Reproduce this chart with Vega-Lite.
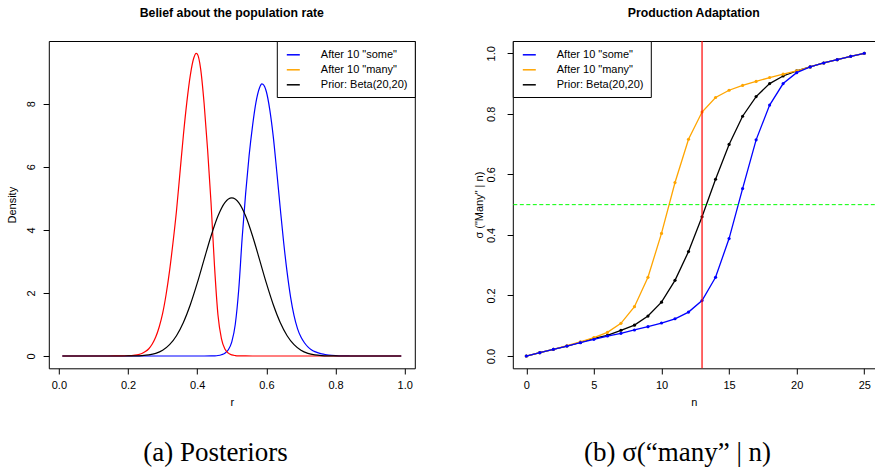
{
  "$schema": "https://vega.github.io/schema/vega-lite/v6.json",
  "background": "white",
  "padding": {"left": 5.8, "top": 6, "right": 0, "bottom": 0},
  "config": {
    "font": "Liberation Sans",
    "axis": {"grid": false, "domain": false, "labelFont": "Liberation Sans", "labelFontSize": 11, "labelColor": "black", "titleFont": "Liberation Sans", "titleFontSize": 11, "titleFontWeight": "normal", "titleColor": "black", "tickColor": "black", "tickSize": 5.7, "tickWidth": 1, "domainColor": "black", "domainWidth": 1, "labelFlush": false, "labelOverlap": false},
    "title": {"font": "Liberation Sans", "fontSize": 12.3, "fontWeight": "bold", "color": "black", "anchor": "middle", "baseline": "alphabetic", "offset": 21},
    "legend": {"title": null, "symbolType": "stroke", "symbolSize": 169, "symbolStrokeWidth": 1.5, "labelFont": "Liberation Sans", "labelFontSize": 11, "labelColor": "black", "labelLimit": 300, "padding": 6.3, "rowPadding": 2, "symbolOffset": 2.7, "labelOffset": 20, "strokeColor": "black", "fillColor": "white", "offset": 0, "cornerRadius": 0}
  },
  "datasets": {
    "post": [
      {"k": "some", "r": 0.01, "d": 0}, {"k": "some", "r": 0.42, "d": 0}, {"k": "some", "r": 0.44, "d": 0.001}, {"k": "some", "r": 0.45, "d": 0.005}, {"k": "some", "r": 0.46, "d": 0.015}, {"k": "some", "r": 0.47, "d": 0.04}, {"k": "some", "r": 0.48, "d": 0.09}, {"k": "some", "r": 0.49, "d": 0.2}, {"k": "some", "r": 0.5, "d": 0.45}, {"k": "some", "r": 0.51, "d": 1.0}, {"k": "some", "r": 0.52, "d": 2.1}, {"k": "some", "r": 0.53, "d": 3.75}, {"k": "some", "r": 0.54, "d": 5.15}, {"k": "some", "r": 0.55, "d": 6.35}, {"k": "some", "r": 0.56, "d": 7.3}, {"k": "some", "r": 0.57, "d": 8.05}, {"k": "some", "r": 0.58, "d": 8.5}, {"k": "some", "r": 0.587, "d": 8.63}, {"k": "some", "r": 0.59, "d": 8.62}, {"k": "some", "r": 0.6, "d": 8.38}, {"k": "some", "r": 0.61, "d": 7.8}, {"k": "some", "r": 0.62, "d": 6.95}, {"k": "some", "r": 0.63, "d": 5.85}, {"k": "some", "r": 0.64, "d": 4.7}, {"k": "some", "r": 0.65, "d": 3.6}, {"k": "some", "r": 0.66, "d": 2.65}, {"k": "some", "r": 0.67, "d": 1.87}, {"k": "some", "r": 0.68, "d": 1.28}, {"k": "some", "r": 0.69, "d": 0.87}, {"k": "some", "r": 0.7, "d": 0.6}, {"k": "some", "r": 0.71, "d": 0.42}, {"k": "some", "r": 0.72, "d": 0.29}, {"k": "some", "r": 0.73, "d": 0.2}, {"k": "some", "r": 0.74, "d": 0.14}, {"k": "some", "r": 0.75, "d": 0.1}, {"k": "some", "r": 0.76, "d": 0.07}, {"k": "some", "r": 0.77, "d": 0.048}, {"k": "some", "r": 0.78, "d": 0.032}, {"k": "some", "r": 0.8, "d": 0.013}, {"k": "some", "r": 0.82, "d": 0.004}, {"k": "some", "r": 0.84, "d": 0.001}, {"k": "some", "r": 0.86, "d": 0}, {"k": "some", "r": 0.99, "d": 0},
      {"k": "many", "r": 0.01, "d": 0}, {"k": "many", "r": 0.14, "d": 0}, {"k": "many", "r": 0.16, "d": 0.001}, {"k": "many", "r": 0.18, "d": 0.003}, {"k": "many", "r": 0.2, "d": 0.008}, {"k": "many", "r": 0.21, "d": 0.013}, {"k": "many", "r": 0.22, "d": 0.025}, {"k": "many", "r": 0.23, "d": 0.045}, {"k": "many", "r": 0.24, "d": 0.08}, {"k": "many", "r": 0.25, "d": 0.14}, {"k": "many", "r": 0.26, "d": 0.23}, {"k": "many", "r": 0.27, "d": 0.38}, {"k": "many", "r": 0.28, "d": 0.6}, {"k": "many", "r": 0.29, "d": 0.92}, {"k": "many", "r": 0.3, "d": 1.35}, {"k": "many", "r": 0.31, "d": 1.95}, {"k": "many", "r": 0.32, "d": 2.7}, {"k": "many", "r": 0.33, "d": 3.6}, {"k": "many", "r": 0.34, "d": 4.6}, {"k": "many", "r": 0.35, "d": 5.8}, {"k": "many", "r": 0.36, "d": 7.0}, {"k": "many", "r": 0.37, "d": 8.05}, {"k": "many", "r": 0.38, "d": 8.9}, {"k": "many", "r": 0.39, "d": 9.45}, {"k": "many", "r": 0.397, "d": 9.6}, {"k": "many", "r": 0.4, "d": 9.58}, {"k": "many", "r": 0.41, "d": 9.1}, {"k": "many", "r": 0.42, "d": 8.0}, {"k": "many", "r": 0.43, "d": 6.55}, {"k": "many", "r": 0.44, "d": 4.85}, {"k": "many", "r": 0.45, "d": 2.85}, {"k": "many", "r": 0.46, "d": 1.3}, {"k": "many", "r": 0.47, "d": 0.55}, {"k": "many", "r": 0.48, "d": 0.22}, {"k": "many", "r": 0.49, "d": 0.09}, {"k": "many", "r": 0.5, "d": 0.035}, {"k": "many", "r": 0.51, "d": 0.014}, {"k": "many", "r": 0.52, "d": 0.005}, {"k": "many", "r": 0.54, "d": 0.001}, {"k": "many", "r": 0.56, "d": 0}, {"k": "many", "r": 0.99, "d": 0},
      {"k": "prior", "r": 0.01, "d": 0}, {"k": "prior", "r": 0.18, "d": 0}, {"k": "prior", "r": 0.2, "d": 0.001}, {"k": "prior", "r": 0.22, "d": 0.0039}, {"k": "prior", "r": 0.24, "d": 0.0126}, {"k": "prior", "r": 0.26, "d": 0.0346}, {"k": "prior", "r": 0.28, "d": 0.0841}, {"k": "prior", "r": 0.3, "d": 0.183}, {"k": "prior", "r": 0.32, "d": 0.359}, {"k": "prior", "r": 0.34, "d": 0.644}, {"k": "prior", "r": 0.36, "d": 1.063}, {"k": "prior", "r": 0.38, "d": 1.625}, {"k": "prior", "r": 0.4, "d": 2.309}, {"k": "prior", "r": 0.42, "d": 3.064}, {"k": "prior", "r": 0.44, "d": 3.807}, {"k": "prior", "r": 0.46, "d": 4.439}, {"k": "prior", "r": 0.48, "d": 4.865}, {"k": "prior", "r": 0.5, "d": 5.015}, {"k": "prior", "r": 0.52, "d": 4.865}, {"k": "prior", "r": 0.54, "d": 4.439}, {"k": "prior", "r": 0.56, "d": 3.807}, {"k": "prior", "r": 0.58, "d": 3.064}, {"k": "prior", "r": 0.6, "d": 2.309}, {"k": "prior", "r": 0.62, "d": 1.625}, {"k": "prior", "r": 0.64, "d": 1.063}, {"k": "prior", "r": 0.66, "d": 0.644}, {"k": "prior", "r": 0.68, "d": 0.359}, {"k": "prior", "r": 0.7, "d": 0.183}, {"k": "prior", "r": 0.72, "d": 0.0841}, {"k": "prior", "r": 0.74, "d": 0.0346}, {"k": "prior", "r": 0.76, "d": 0.0126}, {"k": "prior", "r": 0.78, "d": 0.0039}, {"k": "prior", "r": 0.8, "d": 0.001}, {"k": "prior", "r": 0.82, "d": 0}, {"k": "prior", "r": 0.99, "d": 0}
    ],
    "prod": [
      {"k": "some", "n": 0, "v": 0}, {"k": "some", "n": 1, "v": 0.011}, {"k": "some", "n": 2, "v": 0.022}, {"k": "some", "n": 3, "v": 0.033}, {"k": "some", "n": 4, "v": 0.044}, {"k": "some", "n": 5, "v": 0.055}, {"k": "some", "n": 6, "v": 0.066}, {"k": "some", "n": 7, "v": 0.075}, {"k": "some", "n": 8, "v": 0.086}, {"k": "some", "n": 9, "v": 0.097}, {"k": "some", "n": 10, "v": 0.109}, {"k": "some", "n": 11, "v": 0.123}, {"k": "some", "n": 12, "v": 0.145}, {"k": "some", "n": 13, "v": 0.183}, {"k": "some", "n": 14, "v": 0.26}, {"k": "some", "n": 15, "v": 0.388}, {"k": "some", "n": 16, "v": 0.553}, {"k": "some", "n": 17, "v": 0.714}, {"k": "some", "n": 18, "v": 0.829}, {"k": "some", "n": 19, "v": 0.9}, {"k": "some", "n": 20, "v": 0.936}, {"k": "some", "n": 21, "v": 0.955}, {"k": "some", "n": 22, "v": 0.968}, {"k": "some", "n": 23, "v": 0.979}, {"k": "some", "n": 24, "v": 0.99}, {"k": "some", "n": 25, "v": 1.0},
      {"k": "many", "n": 0, "v": 0}, {"k": "many", "n": 1, "v": 0.011}, {"k": "many", "n": 2, "v": 0.022}, {"k": "many", "n": 3, "v": 0.034}, {"k": "many", "n": 4, "v": 0.047}, {"k": "many", "n": 5, "v": 0.061}, {"k": "many", "n": 6, "v": 0.078}, {"k": "many", "n": 7, "v": 0.108}, {"k": "many", "n": 8, "v": 0.163}, {"k": "many", "n": 9, "v": 0.26}, {"k": "many", "n": 10, "v": 0.405}, {"k": "many", "n": 11, "v": 0.573}, {"k": "many", "n": 12, "v": 0.716}, {"k": "many", "n": 13, "v": 0.806}, {"k": "many", "n": 14, "v": 0.854}, {"k": "many", "n": 15, "v": 0.878}, {"k": "many", "n": 16, "v": 0.894}, {"k": "many", "n": 17, "v": 0.907}, {"k": "many", "n": 18, "v": 0.92}, {"k": "many", "n": 19, "v": 0.931}, {"k": "many", "n": 20, "v": 0.942}, {"k": "many", "n": 21, "v": 0.955}, {"k": "many", "n": 22, "v": 0.968}, {"k": "many", "n": 23, "v": 0.979}, {"k": "many", "n": 24, "v": 0.99}, {"k": "many", "n": 25, "v": 1.0},
      {"k": "prior", "n": 0, "v": 0}, {"k": "prior", "n": 1, "v": 0.011}, {"k": "prior", "n": 2, "v": 0.022}, {"k": "prior", "n": 3, "v": 0.033}, {"k": "prior", "n": 4, "v": 0.045}, {"k": "prior", "n": 5, "v": 0.058}, {"k": "prior", "n": 6, "v": 0.068}, {"k": "prior", "n": 7, "v": 0.085}, {"k": "prior", "n": 8, "v": 0.102}, {"k": "prior", "n": 9, "v": 0.132}, {"k": "prior", "n": 10, "v": 0.178}, {"k": "prior", "n": 11, "v": 0.25}, {"k": "prior", "n": 12, "v": 0.345}, {"k": "prior", "n": 13, "v": 0.46}, {"k": "prior", "n": 14, "v": 0.584}, {"k": "prior", "n": 15, "v": 0.699}, {"k": "prior", "n": 16, "v": 0.792}, {"k": "prior", "n": 17, "v": 0.857}, {"k": "prior", "n": 18, "v": 0.9}, {"k": "prior", "n": 19, "v": 0.925}, {"k": "prior", "n": 20, "v": 0.942}, {"k": "prior", "n": 21, "v": 0.955}, {"k": "prior", "n": 22, "v": 0.968}, {"k": "prior", "n": 23, "v": 0.979}, {"k": "prior", "n": 24, "v": 0.99}, {"k": "prior", "n": 25, "v": 1.0}
    ]
  },
  "columns": 2,
  "spacing": {"row": 68.7, "column": 98},
  "bounds": "flush",
  "concat": [
    {
      "width": 366,
      "height": 327.3,
      "title": "Belief about the population rate",
      "view": {"stroke": "black", "strokeWidth": 1},
      "data": {"name": "post"},
      "encoding": {
        "x": {"field": "r", "type": "quantitative", "scale": {"domain": [-0.0292, 1.0292], "nice": false, "zero": false}, "axis": {"values": [0, 0.2, 0.4, 0.6, 0.8, 1], "format": ".1f", "title": "r", "labelPadding": 6, "titlePadding": 6}},
        "y": {"field": "d", "type": "quantitative", "scale": {"domain": [-0.39, 9.99], "nice": false, "zero": false}, "axis": {"values": [0, 2, 4, 6, 8], "format": "d", "title": "Density", "labelAngle": -90, "labelAlign": "center", "labelBaseline": "middle", "labelPadding": 12, "titlePadding": 7.5}}
      },
      "layer": [
        {
          "transform": [{"filter": {"field": "k", "equal": "some"}}],
          "mark": {"type": "line", "strokeWidth": 1.2, "interpolate": "monotone"},
          "encoding": {"color": {"field": "k", "type": "nominal", "scale": {"domain": ["some", "many", "prior"], "range": ["#0000FF", "#FFA500", "#000000"]}, "legend": {"orient": "top-right", "labelExpr": "datum.label == 'some' ? 'After 10 \"some\"' : datum.label == 'many' ? 'After 10 \"many\"' : 'Prior: Beta(20,20)'"}}}
        },
        {
          "transform": [{"filter": {"field": "k", "equal": "many"}}],
          "mark": {"type": "line", "strokeWidth": 1.2, "interpolate": "monotone", "color": "#FF0000"}
        },
        {
          "transform": [{"filter": {"field": "k", "equal": "prior"}}],
          "mark": {"type": "line", "strokeWidth": 1.2, "interpolate": "monotone"},
          "encoding": {"color": {"field": "k", "type": "nominal", "scale": {"domain": ["some", "many", "prior"], "range": ["#0000FF", "#FFA500", "#000000"]}, "legend": {"orient": "top-right", "labelExpr": "datum.label == 'some' ? 'After 10 \"some\"' : datum.label == 'many' ? 'After 10 \"many\"' : 'Prior: Beta(20,20)'"}}}
        }
      ]
    },
    {
      "width": 362,
      "height": 327.3,
      "title": "Production Adaptation",
      "view": {"stroke": null},
      "layer": [
        {
          "data": {"name": "prod"},
          "encoding": {
            "x": {"field": "n", "type": "quantitative", "scale": {"domain": [-1, 25.78], "nice": false, "zero": false}, "axis": {"orient": "bottom", "domain": true, "values": [0, 5, 10, 15, 20, 25], "format": "d", "title": "n", "labelPadding": 6, "titlePadding": 6}},
            "y": {"field": "v", "type": "quantitative", "scale": {"domain": [-0.0406, 1.0406], "nice": false, "zero": false}, "axis": {"domain": true, "values": [0, 0.2, 0.4, 0.6, 0.8, 1], "format": ".1f", "title": "σ (\"Many\" | n)", "labelAngle": -90, "labelAlign": "center", "labelBaseline": "middle", "labelPadding": 16, "titlePadding": 1}},
            "color": {"field": "k", "type": "nominal", "scale": {"domain": ["some", "many", "prior"], "range": ["#0000FF", "#FFA500", "#000000"]}, "legend": {"orient": "top-left", "labelExpr": "datum.label == 'some' ? 'After 10 \"some\"' : datum.label == 'many' ? 'After 10 \"many\"' : 'Prior: Beta(20,20)'"}}
          },
          "layer": [
            {"transform": [{"filter": {"field": "k", "equal": "prior"}}], "mark": {"type": "line", "strokeWidth": 1.3, "point": {"filled": true, "size": 10}}},
            {"transform": [{"filter": {"field": "k", "equal": "many"}}], "mark": {"type": "line", "strokeWidth": 1.3, "point": {"filled": true, "size": 10}}},
            {"transform": [{"filter": {"field": "k", "equal": "some"}}], "mark": {"type": "line", "strokeWidth": 1.3, "point": {"filled": true, "size": 10}}}
          ]
        },
        {
          "data": {"values": [{"n": 13, "v": 0.5}]},
          "layer": [
            {
              "mark": {"type": "rule", "color": "#00FF00", "strokeWidth": 1, "strokeDash": [4, 2.5]},
              "encoding": {"y": {"field": "v", "type": "quantitative", "scale": {"domain": [-0.0406, 1.0406], "nice": false, "zero": false}, "axis": {"domain": true, "values": [0, 0.2, 0.4, 0.6, 0.8, 1], "format": ".1f", "title": "σ (\"Many\" | n)", "labelAngle": -90, "labelAlign": "center", "labelBaseline": "middle", "labelPadding": 16, "titlePadding": 1}}}
            },
            {
              "mark": {"type": "rule", "color": "#FF0000", "strokeWidth": 1.2},
              "encoding": {"x": {"field": "n", "type": "quantitative", "scale": {"domain": [-1, 25.78], "nice": false, "zero": false}, "axis": {"orient": "top", "domain": true, "labels": false, "ticks": false, "title": null}}}
            }
          ]
        }
      ],
      "resolve": {"axis": {"x": "independent"}}
    },
    {
      "width": 333.4,
      "height": 30,
      "view": {"stroke": null},
      "data": {"values": [{"c": "(a) Posteriors"}]},
      "mark": {"type": "text", "font": "Liberation Serif", "fontSize": 27, "align": "center", "baseline": "middle", "color": "black"},
      "encoding": {"text": {"field": "c", "type": "nominal"}}
    },
    {
      "width": 329.4,
      "height": 30,
      "view": {"stroke": null},
      "data": {"values": [{"c": "(b) σ(“many” | n)"}]},
      "mark": {"type": "text", "font": "Liberation Serif", "fontSize": 27, "align": "center", "baseline": "middle", "color": "black"},
      "encoding": {"text": {"field": "c", "type": "nominal"}}
    }
  ]
}
